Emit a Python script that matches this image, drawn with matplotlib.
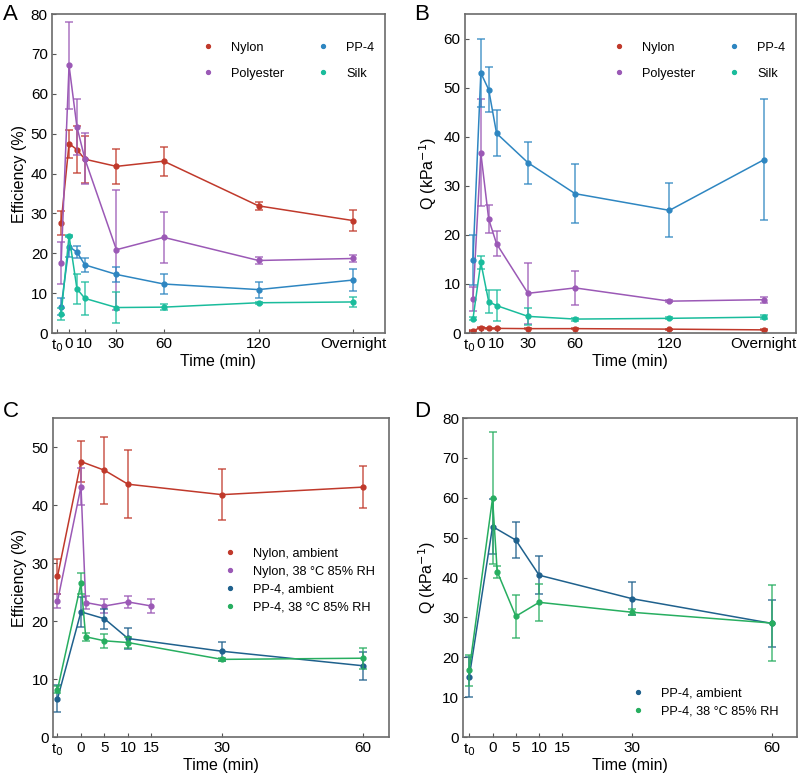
import matplotlib.pyplot as plt

plt.rcParams['font.family'] = ['Liberation Sans', 'DejaVu Sans']

# time axis (t0 drawn at -5 min, "Overnight" drawn at 180 min)
t_long = [-5, 0, 5, 10, 30, 60, 120, 180]
long_ticks = [-7.5, 0, 10, 30, 60, 120, 180]
long_labels = ['t$_0$', '0', '10', '30', '60', '120', 'Overnight']

# panel A - efficiency (%)
nylon_eff = [27.7, 47.5, 46.0, 43.6, 41.8, 43.1, 31.9, 28.2]
nylon_eff_err = [3.0, 3.5, 5.8, 5.9, 4.4, 3.6, 1.0, 2.6]
poly_eff = [17.6, 67.1, 51.7, 43.7, 20.9, 24.0, 18.2, 18.7]
poly_eff_err = [5.2, 11.0, 7.0, 6.4, 15.0, 6.4, 0.8, 1.0]
pp4_eff = [6.6, 21.7, 20.3, 17.1, 14.7, 12.3, 10.9, 13.3]
pp4_eff_err = [2.1, 2.6, 1.6, 1.8, 1.8, 2.4, 2.0, 2.8]
silk_eff = [4.8, 24.4, 11.1, 8.7, 6.4, 6.5, 7.6, 7.8]
silk_eff_err = [1.4, 0.3, 3.8, 4.2, 3.8, 0.7, 0.3, 1.2]

# panel B - quality factor (kPa^-1)
nylon_q = [0.5, 1.1, 1.0, 0.95, 0.9, 0.9, 0.8, 0.65]
nylon_q_err = [0.1, 0.1, 0.1, 0.1, 0.1, 0.1, 0.1, 0.1]
poly_q = [6.9, 36.7, 23.2, 18.2, 8.1, 9.2, 6.5, 6.8]
poly_q_err = [2.5, 10.9, 2.9, 2.6, 6.2, 3.4, 0.2, 0.6]
pp4_q = [14.9, 53.0, 49.6, 40.7, 34.7, 28.4, 25.0, 35.3]
pp4_q_err = [5.1, 7.0, 4.6, 4.7, 4.3, 6.0, 5.5, 12.3]
silk_q = [2.9, 14.4, 6.4, 5.6, 3.4, 2.85, 3.0, 3.25]
silk_q_err = [0.3, 1.3, 2.4, 3.2, 1.7, 0.3, 0.2, 0.4]

# panels C / D - ambient vs 38 C 85% RH
short_ticks = [-5, 0, 5, 10, 15, 30, 60]
short_labels = ['t$_0$', '0', '5', '10', '15', '30', '60']
t_amb = [-5, 0, 5, 10, 30, 60]
t_nylon_hum = [-5, 0, 1, 5, 10, 15]
t_pp4_hum = [-5, 0, 1, 5, 10, 30, 60]

nylon_amb = [27.7, 47.5, 46.0, 43.6, 41.8, 43.1]
nylon_amb_err = [3.0, 3.6, 5.8, 5.9, 4.4, 3.6]
nylon_hum = [23.4, 43.2, 23.2, 22.6, 23.3, 22.6]
nylon_hum_err = [1.2, 3.2, 1.2, 1.2, 1.1, 1.2]
pp4_amb = [6.6, 21.6, 20.4, 17.0, 14.8, 12.3]
pp4_amb_err = [2.3, 2.6, 1.7, 1.8, 1.6, 2.4]
pp4_hum = [8.2, 26.5, 17.3, 16.6, 16.3, 13.4, 13.6]
pp4_hum_err = [0.6, 1.8, 0.7, 1.2, 1.0, 0.2, 1.8]

pp4_amb_q = [15.1, 52.8, 49.4, 40.6, 34.7, 28.5]
pp4_amb_q_err = [5.1, 7.0, 4.6, 4.8, 4.2, 6.0]
pp4_hum_q = [16.8, 59.9, 41.5, 30.3, 33.8, 31.3, 28.6]
pp4_hum_q_err = [3.9, 16.6, 1.5, 5.4, 4.7, 0.8, 9.6]

RED = '#c0392b'
PURPLE = '#9b59b6'
BLUE = '#2e86c1'
TEAL = '#1abc9c'
DBLUE = '#1f618d'
GREEN = '#27ae60'


def plot_series(ax, x, y, err, color, label):
    ax.errorbar(x, y, yerr=err, fmt='none', ecolor=color, alpha=0.7,
                elinewidth=1.3, capsize=3, capthick=1.3)
    ax.plot(x, y, '-', color=color, lw=1.1)
    ax.plot(x, y, 'o', color=color, ms=3.5, label=label, ls='none')


def style_axes(ax, ticks, labels, xlim, ylim, yticks, ylabel):
    ax.set_xticks(ticks)
    ax.set_xticklabels(labels)
    ax.set_xlim(xlim)
    ax.set_ylim(ylim)
    ax.set_yticks(yticks)
    ax.tick_params(direction='in', labelsize=11, length=3, color='#555555', pad=3)
    for s in ax.spines.values():
        s.set_color('#6b6b6b')
        s.set_linewidth(1.2)
    ax.set_xlabel('Time (min)', fontsize=11.5, labelpad=0)
    ax.set_ylabel(ylabel, fontsize=11.5, labelpad=3)


fig = plt.figure(figsize=(8, 7.8), dpi=100)

axA = fig.add_axes([0.065, 0.573, 0.416, 0.409])
axB = fig.add_axes([0.581, 0.573, 0.414, 0.409])
axC = fig.add_axes([0.066, 0.055, 0.42, 0.409])
axD = fig.add_axes([0.579, 0.055, 0.4175, 0.409])

leg_kw = dict(frameon=False, fontsize=9.2, handlelength=1.0, handletextpad=1.3,
              markerscale=0.8, borderpad=0, borderaxespad=0)

plot_series(axA, t_long, nylon_eff, nylon_eff_err, RED, 'Nylon')
plot_series(axA, t_long, poly_eff, poly_eff_err, PURPLE, 'Polyester')
plot_series(axA, t_long, pp4_eff, pp4_eff_err, BLUE, 'PP-4')
plot_series(axA, t_long, silk_eff, silk_eff_err, TEAL, 'Silk')
style_axes(axA, long_ticks, long_labels, (-10.8, 200), (0, 80),
           range(0, 81, 10), 'Efficiency (%)')
axA.legend(ncol=2, loc='upper left', bbox_to_anchor=(0.449, 0.913),
           columnspacing=2.55, labelspacing=1.1, **leg_kw)

plot_series(axB, t_long, nylon_q, nylon_q_err, RED, 'Nylon')
plot_series(axB, t_long, poly_q, poly_q_err, PURPLE, 'Polyester')
plot_series(axB, t_long, pp4_q, pp4_q_err, BLUE, 'PP-4')
plot_series(axB, t_long, silk_q, silk_q_err, TEAL, 'Silk')
style_axes(axB, long_ticks, long_labels, (-10.2, 200.5), (0, 65),
           range(0, 61, 10), 'Q (kPa$^{-1}$)')
axB.legend(ncol=2, loc='upper left', bbox_to_anchor=(0.446, 0.913),
           columnspacing=2.55, labelspacing=1.1, **leg_kw)

plot_series(axC, t_amb, nylon_amb, nylon_amb_err, RED, 'Nylon, ambient')
plot_series(axC, t_nylon_hum, nylon_hum, nylon_hum_err, PURPLE, 'Nylon, 38 °C 85% RH')
plot_series(axC, t_amb, pp4_amb, pp4_amb_err, DBLUE, 'PP-4, ambient')
plot_series(axC, t_pp4_hum, pp4_hum, pp4_hum_err, GREEN, 'PP-4, 38 °C 85% RH')
style_axes(axC, short_ticks, short_labels, (-6, 65.5), (0, 55),
           range(0, 51, 10), 'Efficiency (%)')
axC.legend(loc='center left', bbox_to_anchor=(0.508, 0.49),
           labelspacing=0.46, **leg_kw)

plot_series(axD, t_amb, pp4_amb_q, pp4_amb_q_err, DBLUE, 'PP-4, ambient')
plot_series(axD, t_pp4_hum, pp4_hum_q, pp4_hum_q_err, GREEN, 'PP-4, 38 °C 85% RH')
style_axes(axD, short_ticks, short_labels, (-6.3, 65.4), (0, 80),
           range(0, 81, 10), 'Q (kPa$^{-1}$)')
axD.legend(loc='center left', bbox_to_anchor=(0.505, 0.108),
           labelspacing=0.46, **leg_kw)

fig.text(0.004, 0.982, 'A', fontsize=16, va='center')
fig.text(0.518, 0.982, 'B', fontsize=16, va='center')
fig.text(0.004, 0.472, 'C', fontsize=16, va='center')
fig.text(0.518, 0.472, 'D', fontsize=16, va='center')

fig.savefig('out.png', dpi=100)
